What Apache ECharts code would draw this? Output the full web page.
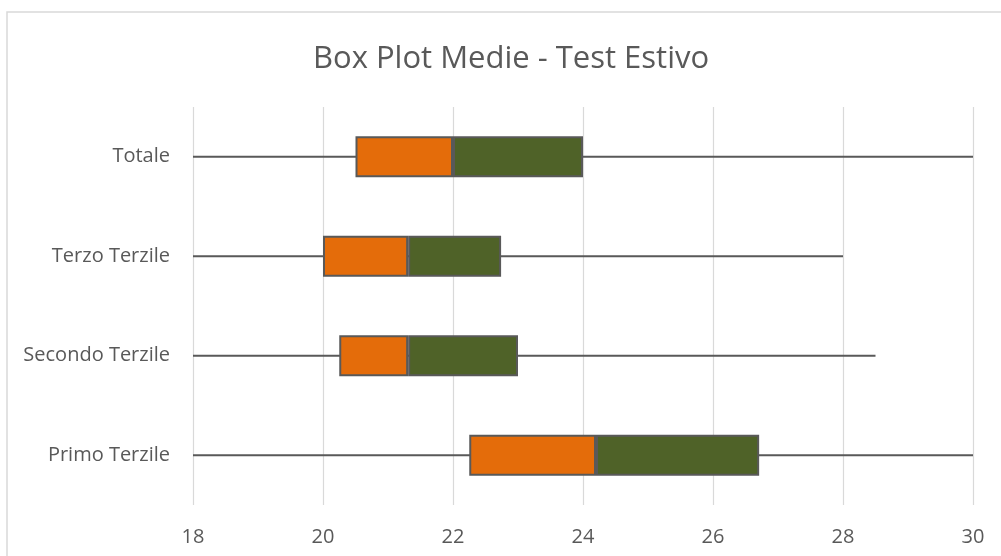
<!DOCTYPE html>
<html>
<head>
<meta charset="utf-8">
<script src="https://cdn.jsdelivr.net/npm/echarts@6/dist/echarts.min.js"></script>
<style>
html,body{margin:0;padding:0;background:#fff;}
#chart{width:1001px;height:556px;}
</style>
</head>
<body>
<div id="chart"></div>
<script>
var categories = ['Primo Terzile', 'Secondo Terzile', 'Terzo Terzile', 'Totale'];
var minValues = [18, 18, 18, 18];
var q1Values = [22.25, 20.25, 20.0, 20.5];
var medianValues = [24.2, 21.31, 21.31, 22.0];
var q3Values = [26.71, 23.0, 22.74, 24.0];
var maxValues = [30, 28.5, 28.0, 30];
var xTicks = [18, 20, 22, 24, 26, 28, 30];

var lowerBox = q1Values.map(function (q, i) { return +(medianValues[i] - q).toFixed(3); });
var upperBox = q3Values.map(function (q, i) { return +(q - medianValues[i]).toFixed(3); });
var whiskerData = categories.map(function (c, i) { return [i, minValues[i], maxValues[i]]; });

var chart = echarts.init(document.getElementById('chart'));
var font = '"Open Sans", "Noto Sans", sans-serif';
chart.setOption({
  animation: false,
  backgroundColor: '#fff',
  graphic: [{
    type: 'rect', z: -10,
    shape: { x: 7, y: 12, width: 1020, height: 560 },
    style: { fill: '#fff', stroke: '#d9d9d9', lineWidth: 1.5 }
  }],
  title: {
    text: 'Box Plot Medie - Test Estivo',
    left: 308, top: 39,
    textStyle: { fontFamily: font, fontSize: 31, fontWeight: 'normal', color: '#595959' }
  },
  grid: { left: 193, right: 28, top: 107, bottom: 51, containLabel: false },
  xAxis: {
    type: 'value', min: xTicks[0], max: xTicks[xTicks.length - 1], interval: 2,
    axisLine: { show: false }, axisTick: { show: false },
    axisLabel: { fontFamily: font, fontSize: 20, color: '#595959', margin: 22 },
    splitLine: { show: true, lineStyle: { color: '#d9d9d9', width: 1.2 } }
  },
  yAxis: {
    type: 'category', data: categories,
    axisLine: { show: false }, axisTick: { show: false },
    axisLabel: { fontFamily: font, fontSize: 20, color: '#595959', margin: 23 },
    splitLine: { show: false }
  },
  series: [
    {
      type: 'custom', z: 1,
      renderItem: function (params, api) {
        var y = api.value(0);
        var a = api.coord([api.value(1), y]);
        var b = api.coord([api.value(2), y]);
        return {
          type: 'line',
          shape: { x1: a[0], y1: a[1], x2: b[0], y2: b[1] },
          style: { stroke: '#595959', lineWidth: 2 }
        };
      },
      encode: { x: [1, 2], y: 0 },
      data: whiskerData
    },
    {
      type: 'bar', stack: 'box', z: 2, barWidth: 41,
      itemStyle: { color: 'rgba(0,0,0,0)' },
      data: q1Values, silent: true
    },
    {
      type: 'bar', stack: 'box', z: 3, barWidth: 41,
      itemStyle: { color: '#E46C0A', borderColor: '#595959', borderWidth: 2 },
      data: lowerBox
    },
    {
      type: 'bar', stack: 'box', z: 3, barWidth: 41,
      itemStyle: { color: '#4F6228', borderColor: '#595959', borderWidth: 2 },
      data: upperBox
    }
  ]
});
</script>
</body>
</html>
